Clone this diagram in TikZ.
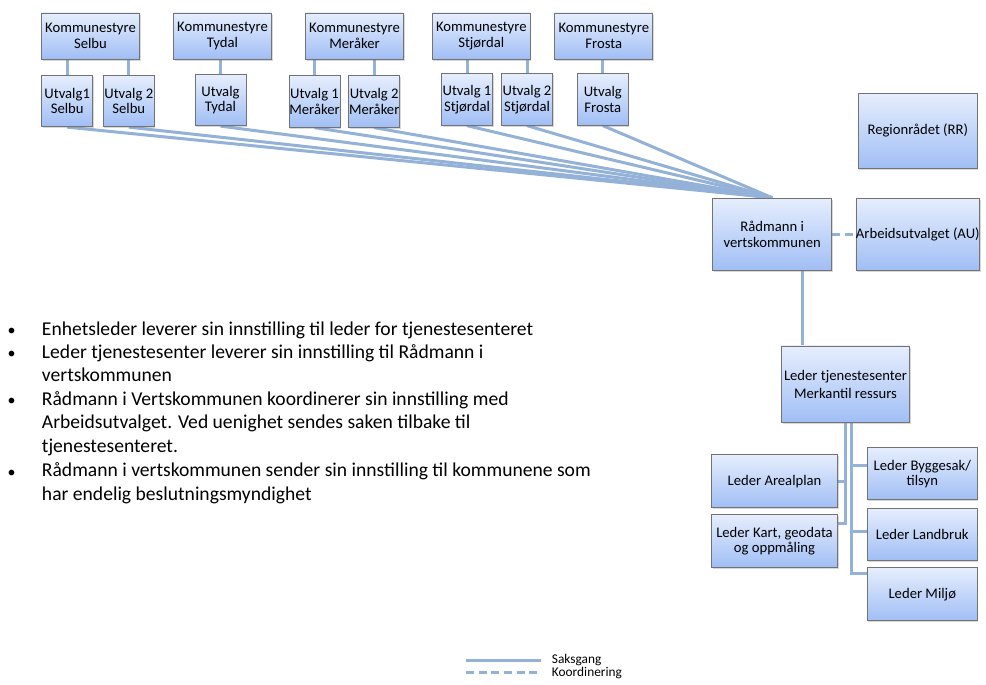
\documentclass[tikz,border=0pt]{standalone}
\usepackage{fontspec}
\setmainfont{Carlito}
\usetikzlibrary{shadows,backgrounds}

\definecolor{boxtop}{RGB}{230,238,253}
\definecolor{boxbot}{RGB}{160,190,245}
\definecolor{strek}{RGB}{148,178,216}

\tikzset{
	orgbox/.style = {draw=black!55, line width=0.7pt, top color=boxtop, bottom color=boxbot, align=center, inner sep=0pt, text centered, font=\fontsize{11}{11.5}\selectfont, drop shadow={shadow xshift=0.8pt, shadow yshift=-1.2pt, opacity=0.3}},
	ks/.style = {orgbox, minimum width=73.5pt, minimum height=34.5pt},
	utv/.style = {orgbox, minimum width=38.25pt, minimum height=38.5pt},
	stor/.style = {orgbox, minimum width=89.25pt, minimum height=54pt},
	leder/.style = {orgbox, minimum width=94.5pt, minimum height=39.75pt},
	lederh/.style = {orgbox, minimum width=82.5pt, minimum height=39pt},
	saks/.style = {draw=strek, line width=2.25pt},
	koord/.style = {saks, dash pattern=on 6pt off 3.5pt},
	prikk/.style = {anchor=base, inner sep=0pt, font=\fontsize{12}{17.6}\selectfont},
	punkt/.style = {anchor=base west, align=left, inner sep=0pt, font=\fontsize{14.7}{17.6}\selectfont},
	forklaring/.style = {anchor=west, inner sep=0pt, font=\fontsize{10}{10}\selectfont}
}

\begin{document}
\begin{tikzpicture}[x=0.75pt, y=-0.75pt]
\begin{pgfonlayer}{background}
\fill[white] (0,0) rectangle (986,685);
\end{pgfonlayer}
\useasboundingbox (0,0) rectangle (986,685);

% kommunestyrene
\node [ks] (kss) at (90.5,36) {Kommunestyre\\Selbu};
\node [ks] (kst) at (222.5,36) {Kommunestyre\\Tydal};
\node [ks] (ksm) at (354.5,36) {Kommunestyre\\Meråker};
\node [ks] (ksj) at (481.3,36) {Kommunestyre\\Stjørdal};
\node [ks] (ksf) at (603.8,36) {Kommunestyre\\Frosta};

% utvalgene
\node [utv] (u1s) at (67.2,101) {Utvalg1\\Selbu};
\node [utv] (u2s) at (128.8,101) {Utvalg 2\\Selbu};
\node [utv] (ut) at (220.5,100) {Utvalg\\Tydal};
\node [utv] (u1m) at (314.5,101.5) {Utvalg 1\\Meråker};
\node [utv] (u2m) at (374.2,101.5) {Utvalg 2\\Meråker};
\node [utv] (u1j) at (467,99.5) {Utvalg 1\\Stjørdal};
\node [utv] (u2j) at (527,99.5) {Utvalg 2\\Stjørdal};
\node [utv] (uf) at (602.8,99.5) {Utvalg\\Frosta};

% vertskommunen
\node [stor, minimum height=56pt] (rr) at (917.8,130.8) {Regionrådet (RR)};
\node [stor] (rad) at (772.2,234.2) {Rådmann i\\vertskommunen};
\node [stor] (au) at (917.8,234.2) {Arbeidsutvalget (AU)};
\node [orgbox, minimum width=96pt, minimum height=57.5pt, font=\fontsize{11}{13.5}\selectfont] (lt) at (845.5,384.3) {Leder tjenestesenter\\Merkantil ressurs};

% ledere
\node [leder] (areal) at (774.5,481.3) {Leder Arealplan};
\node [leder] (kart) at (774.5,541) {Leder Kart, geodata\\og oppmåling};
\node [lederh] (bygg) at (922.3,473.8) {Leder Byggesak/\\tilsyn};
\node [lederh] (land) at (922.3,534.2) {Leder Landbruk};
\node [lederh, minimum height=39.75pt] (miljo) at (922.3,594.3) {Leder Miljø};

% tekst (base = siste linje)
\node [prikk] (p1) at (11.7,335) {•};
\node [punkt] (t1) at (41.7,335) {Enhetsleder leverer sin innstilling til leder for tjenestesenteret};
\node [prikk] (p2) at (11.7,358.3) {•};
\node [punkt] (t2) at (41.7,381.7) {Leder tjenestesenter leverer sin innstilling til Rådmann i\\vertskommunen};
\node [prikk] (p3) at (11.7,405.7) {•};
\node [punkt] (t3) at (41.7,452.3) {Rådmann i Vertskommunen koordinerer sin innstilling med\\Arbeidsutvalget. Ved uenighet sendes saken tilbake til\\tjenestesenteret.};
\node [prikk] (p4) at (11.7,477.7) {•};
\node [punkt] (t4) at (41.7,500) {Rådmann i vertskommunen sender sin innstilling til kommunene som\\har endelig beslutningsmyndighet};

% forklaring
\coordinate (s1) at (466,660);
\coordinate (s2) at (541,660);
\coordinate (k1) at (466,672);
\coordinate (k2) at (541,672);
\node [forklaring] (saksgang) at (551.7,660) {Saksgang};
\node [forklaring] (koordinering) at (551.7,673) {Koordinering};

\begin{pgfonlayer}{background}
\draw [saks] (u1s.north) -- (u1s.north |- kss.south);
\draw [saks] (u2s.north) -- (u2s.north |- kss.south);
\draw [saks] (ut.north) -- (ut.north |- kst.south);
\draw [saks] (u1m.north) -- (u1m.north |- ksm.south);
\draw [saks] (u2m.north) -- (u2m.north |- ksm.south);
\draw [saks] (u1j.north) -- (u1j.north |- ksj.south);
\draw [saks] (u2j.north) -- (u2j.north |- ksj.south);
\draw [saks] (uf.north) -- (uf.north |- ksf.south);

\draw [saks] (u1s.south) -- (rad.north);
\draw [saks] (u2s.south) -- (rad.north);
\draw [saks] (ut.south) -- (rad.north);
\draw [saks] (u1m.south) -- (rad.north);
\draw [saks] (u2m.south) -- (rad.north);
\draw [saks] (u1j.south) -- (rad.north);
\draw [saks] (u2j.south) -- (rad.north);
\draw [saks] (uf.south) -- (rad.north);

\draw [koord] (rad.east) -- (au.west);
\draw [saks] ([xshift=22.5pt]rad.south) -- ([xshift=22.5pt]rad.south |- lt.north);

\draw [saks] (lt.south) |- ([yshift=-6.75pt]kart.north east);
\draw [saks] (lt.south |- areal.east) -- (areal.east);
\coordinate (hv) at ([xshift=4.65pt]lt.south);
\draw [saks] (hv) |- ([yshift=-4.95pt]miljo.north west);
\draw [saks] ([yshift=6.6pt]bygg.west) -| (hv);
\draw [saks] ([yshift=1.9pt]land.west) -| (hv);

\draw [saks] (s1) -- (s2);
\draw [koord] (k1) -- (k2);
\end{pgfonlayer}
\end{tikzpicture}
\end{document}
